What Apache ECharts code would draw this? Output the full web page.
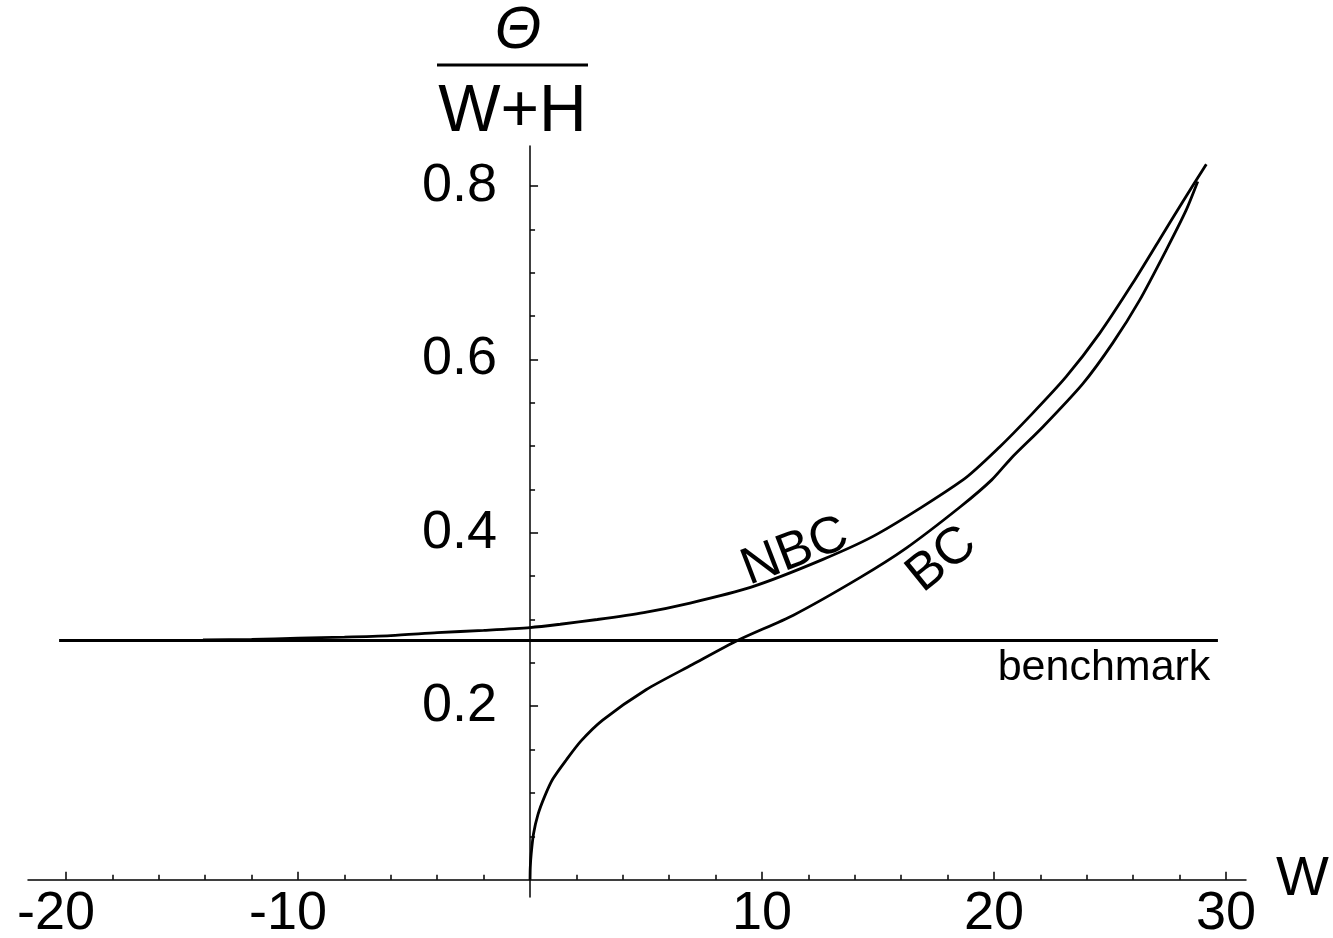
<!DOCTYPE html>
<html>
<head>
<meta charset="utf-8">
<script src="https://cdn.jsdelivr.net/npm/echarts@6/dist/echarts.min.js"></script>
<style>
  html, body { margin: 0; padding: 0; background: #fff; }
  #chart { width: 1333px; height: 938px; }
</style>
</head>
<body>
<div id="chart"></div>
<script>
// values
const nbcX = [-14.1, -12, -10, -8, -6, -4, -2, 0, 1.3, 2.9, 4.9, 6.9, 9.5, 12.6, 15.0, 18.66, 20.24, 21.67, 23.11, 24.55, 25.98, 27.13, 28.14, 29.15]
const nbcY = [0.2765, 0.277, 0.2785, 0.2797, 0.2815, 0.2848, 0.2875, 0.2907, 0.2945, 0.300, 0.308, 0.319, 0.337, 0.369, 0.399, 0.461, 0.499, 0.538, 0.580, 0.630, 0.688, 0.738, 0.782, 0.825]

const bcX = [0, 0.01, 0.05, 0.15, 0.34, 0.63, 0.98, 1.56, 2.2, 3.13, 5.0, 7.0, 8.96, 11.35, 14.2, 16.2, 18.55, 19.9, 20.74, 22.1, 23.83, 25.12, 26.27, 27.42, 28.28, 28.78]
const bcY = [0, 0.014, 0.030, 0.053, 0.075, 0.096, 0.116, 0.138, 0.160, 0.184, 0.219, 0.248, 0.276, 0.305, 0.348, 0.382, 0.430, 0.461, 0.486, 0.522, 0.572, 0.619, 0.668, 0.726, 0.772, 0.805]

const benchmarkX = [-20.3, 29.65]
const benchmarkLevel = 0.2757

const xMajorTicks = [-20, -10, 10, 20, 30]
const xMinorTicks = [-18, -16, -14, -12, -8, -6, -4, -2, 2, 4, 6, 8, 12, 14, 16, 18, 22, 24, 26, 28]
const yMajorTicks = [0.2, 0.4, 0.6, 0.8]
const yMinorTicks = [0.05, 0.1, 0.15, 0.25, 0.3, 0.35, 0.45, 0.5, 0.55, 0.65, 0.7, 0.75]

const FONT = '"Liberation Sans", Arial, Helvetica, sans-serif'
const axisStyle = { color: '#000', width: 1.5 }

const chart = echarts.init(document.getElementById('chart'))

function zip(xs, ys) {
  return xs.map((x, i) => [x, ys[i]])
}

// plot box: axes cross at the origin, which sits inside the grid
const GRID = { left: 28, top: 146, width: 1218, height: 751 }
const xRange = { min: -21.64, max: 30.86 }
const yRange = { min: -0.02, max: 0.846 }
const xAxisShift = -GRID.height * (0 - yRange.min) / (yRange.max - yRange.min)
const yAxisShift = -GRID.width * (0 - xRange.min) / (xRange.max - xRange.min)

chart.setOption({
  animation: false,
  backgroundColor: '#fff',
  grid: { ...GRID, containLabel: false, outerBoundsMode: 'none' },
  xAxis: [
    {
      type: 'value',
      ...xRange,
      position: 'bottom',
      offset: xAxisShift,
      axisLine: { onZero: false, lineStyle: axisStyle },
      splitLine: { show: false },
      axisTick: { inside: true, length: 8, customValues: xMajorTicks, lineStyle: axisStyle },
      axisLabel: {
        customValues: xMajorTicks,
        margin: 7,
        color: '#000',
        fontSize: 54,
        fontFamily: FONT,
        formatter: (v) => (v < 0 ? '{v|' + v + '}{p|}' : '{v|' + v + '}'),
        rich: {
          v: { fontSize: 54, fontFamily: FONT, color: '#000' },
          p: { width: 20 }
        }
      },
      name: 'W',
      nameLocation: 'end',
      nameGap: 30,
      nameTextStyle: { fontSize: 56, fontFamily: FONT, color: '#000', padding: [0, 0, 10, 0] }
    },
    {
      type: 'value',
      ...xRange,
      position: 'bottom',
      offset: xAxisShift,
      axisLine: { show: false, onZero: false },
      splitLine: { show: false },
      axisTick: { inside: true, length: 5, customValues: xMinorTicks, lineStyle: axisStyle },
      axisLabel: { show: false }
    }
  ],
  yAxis: [
    {
      type: 'value',
      ...yRange,
      position: 'left',
      offset: yAxisShift,
      axisLine: { onZero: false, lineStyle: axisStyle },
      splitLine: { show: false },
      axisTick: { inside: true, length: 8, customValues: yMajorTicks, lineStyle: axisStyle },
      axisLabel: {
        customValues: yMajorTicks,
        margin: 33,
        color: '#000',
        fontSize: 54,
        fontFamily: FONT,
        formatter: (v) => v.toFixed(1)
      }
    },
    {
      type: 'value',
      ...yRange,
      position: 'left',
      offset: yAxisShift,
      axisLine: { show: false, onZero: false },
      splitLine: { show: false },
      axisTick: { inside: true, length: 5, customValues: yMinorTicks, lineStyle: axisStyle },
      axisLabel: { show: false }
    }
  ],
  graphic: [
    {
      type: 'text',
      x: 518,
      y: 31,
      style: { text: 'Θ', align: 'center', verticalAlign: 'middle', fill: '#000', fontSize: 60, fontStyle: 'italic', fontFamily: FONT }
    },
    {
      type: 'line',
      shape: { x1: 437, y1: 65, x2: 588, y2: 65 },
      style: { stroke: '#000', lineWidth: 3 }
    },
    {
      type: 'text',
      x: 512.5,
      y: 113,
      style: { text: 'W+H', align: 'center', verticalAlign: 'middle', fill: '#000', fontSize: 66, fontFamily: FONT }
    }
  ],
  series: [
    {
      name: 'benchmark',
      type: 'line',
      data: benchmarkX.map((x) => [x, benchmarkLevel]),
      symbol: 'none',
      lineStyle: { color: '#000', width: 3 }
    },
    {
      name: 'NBC',
      type: 'line',
      data: zip(nbcX, nbcY),
      symbol: 'none',
      smooth: 0.25,
      lineStyle: { color: '#000', width: 2.8 }
    },
    {
      name: 'BC',
      type: 'line',
      data: zip(bcX, bcY),
      symbol: 'none',
      smooth: 0.25,
      lineStyle: { color: '#000', width: 2.8 }
    },
    {
      // curve captions
      type: 'scatter',
      symbolSize: 0,
      silent: true,
      itemStyle: { opacity: 1 },
      label: { show: true, position: 'inside', color: '#000', fontFamily: FONT, textBorderWidth: 0 },
      data: [
        { value: [11.42, 0.378], label: { formatter: 'NBC', rotate: 21, fontSize: 52, color: '#000' } },
        { value: [17.75, 0.369], label: { formatter: 'BC', rotate: 39, fontSize: 52, color: '#000' } },
        { value: [24.74, 0.244], label: { formatter: 'benchmark', fontSize: 43, color: '#000' } }
      ]
    }
  ]
})
</script>
</body>
</html>
